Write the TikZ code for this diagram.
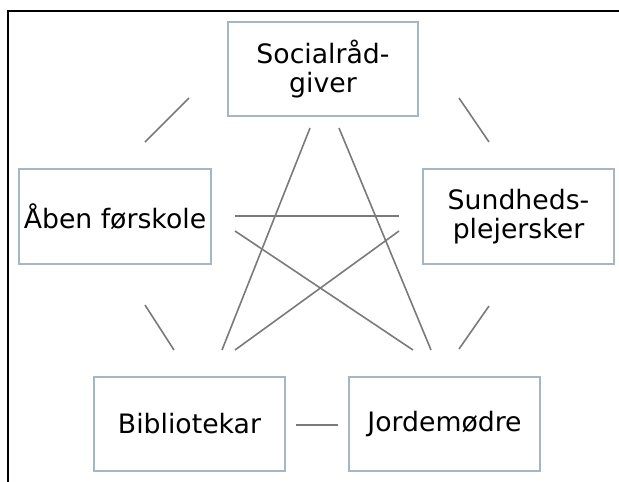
\documentclass[tikz,border=0pt]{standalone}
\usepackage{fontspec}
\setmainfont{DejaVu Sans}
\definecolor{boxc}{HTML}{A7B6C2}
\definecolor{linec}{HTML}{7A7A7A}
\begin{document}
\begin{tikzpicture}[x=1pt,y=-1pt,
  box/.style={draw=boxc,line width=1.5pt,fill=white,inner sep=0pt,align=center,font=\fontsize{26.7}{29}\selectfont},
  conn/.style={draw=linec,line width=1.6pt}]
\useasboundingbox (0,0) rectangle (619,482);
\draw[line width=2pt] (8,482) -- (8,11) -- (619,11);
% boxes
\node[box,minimum width=190pt,minimum height=94pt] (soc) at (323,69) {Socialråd-\\giver};
\node[box,minimum width=192pt,minimum height=95pt] (aben) at (115,216.5) {Åben førskole};
\node[box,minimum width=191pt,minimum height=95pt] (sund) at (518.5,216.5) {Sundheds-\\plejersker};
\node[box,minimum width=191pt,minimum height=94pt] (bib) at (189.5,424) {Bibliotekar};
\node[box,minimum width=191pt,minimum height=94pt] (jord) at (444.5,424) {Jordemødre};
% connector end points
\coordinate (s1) at (189,98);  \coordinate (a1) at (145,142);
\coordinate (s2) at (459,98);  \coordinate (u1) at (489,142);
\coordinate (a2) at (145,305); \coordinate (b1) at (174,350);
\coordinate (u2) at (489,306); \coordinate (j1) at (459,349);
\coordinate (b2) at (296,425); \coordinate (j2) at (338,425);
\coordinate (a3) at (235,216); \coordinate (u3) at (399,216);
\coordinate (s3) at (310,128); \coordinate (b3) at (222,350);
\coordinate (s4) at (339,128); \coordinate (j3) at (431,350);
\coordinate (a4) at (235,231); \coordinate (j4) at (413,350);
\coordinate (u4) at (399,231); \coordinate (b4) at (235,350);
\draw[conn] (s1) -- (a1);
\draw[conn] (s2) -- (u1);
\draw[conn] (a2) -- (b1);
\draw[conn] (u2) -- (j1);
\draw[conn] (b2) -- (j2);
\draw[conn] (a3) -- (u3);
\draw[conn] (s3) -- (b3);
\draw[conn] (s4) -- (j3);
\draw[conn] (a4) -- (j4);
\draw[conn] (u4) -- (b4);
\end{tikzpicture}
\end{document}
